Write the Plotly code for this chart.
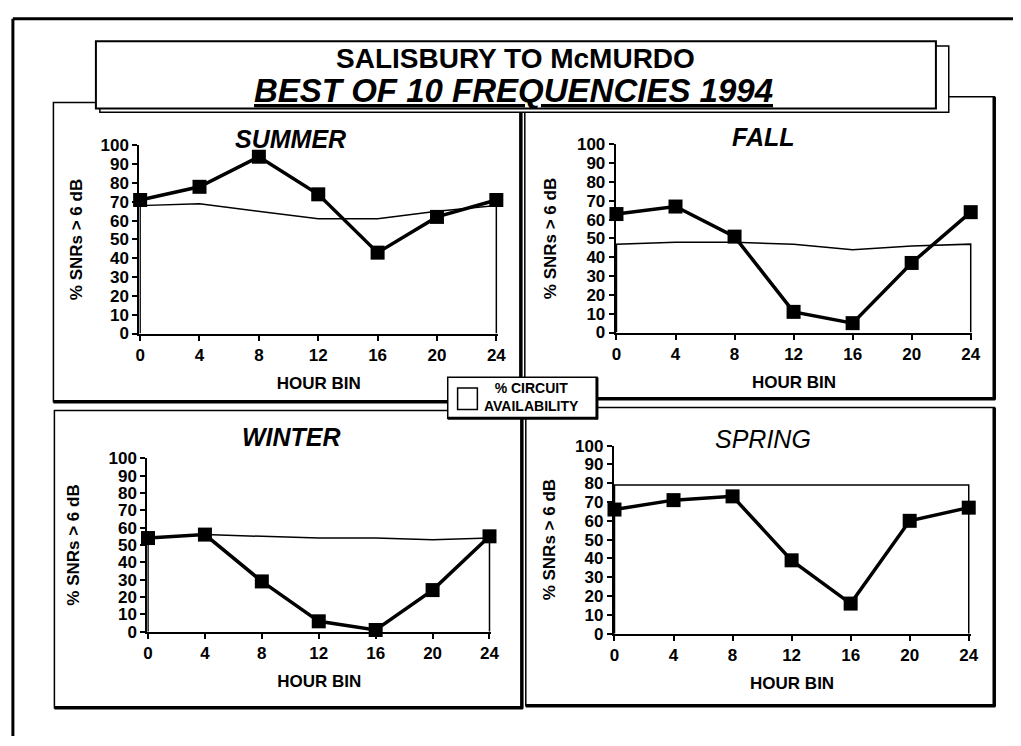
import plotly.graph_objects as go

W, H = 1021, 746
FONT = "Liberation Sans"

# ---- data -------------------------------------------------------------
hours = [0, 4, 8, 12, 16, 20, 24]
hour_labels = ["0", "4", "8", "12", "16", "20", "24"]
pct_ticks = [0, 10, 20, 30, 40, 50, 60, 70, 80, 90, 100]
seasons = ["SUMMER", "FALL", "WINTER", "SPRING"]

snr_summer = [71, 78, 94, 74, 43, 62, 71]
snr_fall = [63, 67, 51, 11, 5, 37, 64]
snr_winter = [54, 56, 29, 6, 1, 24, 55]
snr_spring = [66, 71, 73, 39, 16, 60, 67]

avail_summer = [68, 69, 65, 61, 61, 65, 68]
avail_fall = [47, 48, 48, 47, 44, 46, 47]
avail_winter = [54, 56, 55, 54, 54, 53, 54]
avail_spring = [79, 79, 79, 79, 79, 79, 79]

snr_series = [snr_summer, snr_fall, snr_winter, snr_spring]
avail_series = [avail_summer, avail_fall, avail_winter, avail_spring]


def fx(x):
    return x / W


def fy(y):
    return 1 - y / H


# ---- panel layout (pixel boxes) ---------------------------------------
# plot area: left, top, right, bottom
plot_boxes = [
    (137, 140, 500, 333),
    (619, 139, 980, 332),
    (145, 461, 493, 639),
    (617, 448, 978, 641),
]
# panel frame: left, top, right, bottom
frames = [
    (50, 96, 523, 403),
    (527, 90, 1002, 400),
    (51, 412, 524, 717),
    (528, 409, 1002, 715),
]
title_pos = [(290, 133), (769, 131), (291, 439), (768, 441)]
title_bold = [True, True, True, False]
ytitle_standoff = [14, 16, 25, 15]

fig = go.Figure()
shapes = []
annotations = []

# outer frame (left and top edges)
shapes.append(dict(type="line", xref="paper", yref="paper",
                   x0=fx(9), y0=fy(10), x1=fx(9), y1=fy(746),
                   line=dict(color="black", width=3)))
shapes.append(dict(type="line", xref="paper", yref="paper",
                   x0=fx(9), y0=fy(10), x1=fx(1021), y1=fy(10),
                   line=dict(color="black", width=3)))

# panel frames: thin outline with heavy right/bottom edges
for (l, t, r, b) in frames:
    shapes.append(dict(type="rect", xref="paper", yref="paper",
                       x0=fx(l), y0=fy(b), x1=fx(r), y1=fy(t),
                       line=dict(color="black", width=1.5), layer="below"))
    shapes.append(dict(type="line", xref="paper", yref="paper",
                       x0=fx(r), y0=fy(t), x1=fx(r), y1=fy(b + 1),
                       line=dict(color="black", width=3.5)))
    shapes.append(dict(type="line", xref="paper", yref="paper",
                       x0=fx(l), y0=fy(b), x1=fx(r + 1), y1=fy(b),
                       line=dict(color="black", width=3.5)))

# title box with offset backing box
shapes.append(dict(type="rect", xref="paper", yref="paper",
                   x0=fx(97), y0=fy(106), x1=fx(956), y1=fy(38),
                   line=dict(color="black", width=1.5), fillcolor="white"))
shapes.append(dict(type="rect", xref="paper", yref="paper",
                   x0=fx(93), y0=fy(102), x1=fx(943), y1=fy(33),
                   line=dict(color="black", width=2), fillcolor="white"))

annotations.append(dict(
    text="SALISBURY TO McMURDO", xref="paper", yref="paper",
    x=fx(518), y=fy(51), xanchor="center", yanchor="middle", showarrow=False,
    font=dict(family=FONT, size=28, color="black", weight="bold")))
annotations.append(dict(
    text="BEST OF 10 FREQUENCIES 1994", xref="paper", yref="paper",
    x=fx(516), y=fy(84), xanchor="center", yanchor="middle", showarrow=False,
    font=dict(family=FONT, size=33, color="black", weight="bold",
              style="italic", lineposition="under")))

# ---- the four season panels --------------------------------------------
for i in range(4):
    n = "" if i == 0 else str(i + 1)
    l, t, r, b = plot_boxes[i]
    xa, ya = "x" + n, "y" + n

    # circuit availability drawn as an outlined white area
    fig.add_trace(go.Scatter(
        x=[hours[0]] + hours + [hours[-1]],
        y=[0] + avail_series[i] + [0],
        mode="lines", fill="toself", fillcolor="white",
        line=dict(color="black", width=1.5),
        showlegend=False, hoverinfo="skip", xaxis=xa, yaxis=ya))

    # % SNRs above 6 dB
    fig.add_trace(go.Scatter(
        x=hours, y=snr_series[i], mode="lines+markers",
        line=dict(color="black", width=3.5),
        marker=dict(symbol="square", size=14, color="black"),
        cliponaxis=False, showlegend=False, xaxis=xa, yaxis=ya))

    axis_font = dict(family=FONT, size=17, color="black", weight="bold")
    title_font = dict(family=FONT, size=17, color="black", weight="bold")
    fig.layout["xaxis" + n] = dict(
        domain=[fx(l), fx(r)], anchor=ya, range=[-0.05, 24.12],
        tickmode="array", tickvals=hours, ticktext=hour_labels,
        ticks="outside", ticklen=5, tickwidth=1.5, tickcolor="black",
        showline=True, linecolor="black", linewidth=2,
        showgrid=False, zeroline=False, tickfont=axis_font,
        title=dict(text="HOUR BIN", font=title_font, standoff=13),
        fixedrange=True)
    fig.layout["yaxis" + n] = dict(
        domain=[fy(b), fy(t)], anchor=xa, range=[0, 100],
        tickmode="array", tickvals=pct_ticks,
        ticks="outside", ticklen=5, tickwidth=1.5, tickcolor="black",
        showline=True, linecolor="black", linewidth=2,
        showgrid=False, zeroline=False, tickfont=axis_font,
        title=dict(text="% SNRs > 6 dB", font=title_font,
                   standoff=ytitle_standoff[i]),
        fixedrange=True)

    tx, ty = title_pos[i]
    annotations.append(dict(
        text=seasons[i], xref="paper", yref="paper",
        x=fx(tx), y=fy(ty), xanchor="center", yanchor="middle",
        showarrow=False,
        font=dict(family=FONT, size=25, color="black",
                  weight="bold" if title_bold[i] else "normal",
                  style="italic")))

# ---- legend box ---------------------------------------------------------
shapes.append(dict(type="rect", xref="paper", yref="paper",
                   x0=fx(449), y0=fy(420), x1=fx(600), y1=fy(378),
                   line=dict(color="black", width=1.5), fillcolor="white"))
shapes.append(dict(type="line", xref="paper", yref="paper",
                   x0=fx(600), y0=fy(378), x1=fx(600), y1=fy(421),
                   line=dict(color="black", width=3)))
shapes.append(dict(type="line", xref="paper", yref="paper",
                   x0=fx(449), y0=fy(420), x1=fx(601), y1=fy(420),
                   line=dict(color="black", width=3)))
shapes.append(dict(type="rect", xref="paper", yref="paper",
                   x0=fx(459), y0=fy(411), x1=fx(479), y1=fy(389),
                   line=dict(color="black", width=1.5), fillcolor="white"))
annotations.append(dict(
    text="% CIRCUIT<br>AVAILABILITY", xref="paper", yref="paper",
    x=fx(534), y=fy(398), xanchor="center", yanchor="middle",
    showarrow=False, align="center",
    font=dict(family=FONT, size=14, color="black", weight="bold")))

fig.update_layout(
    width=W, height=H, autosize=False,
    margin=dict(l=0, r=0, t=0, b=0),
    paper_bgcolor="white", plot_bgcolor="rgba(0,0,0,0)",
    shapes=shapes, annotations=annotations,
    font=dict(family=FONT, color="black"),
)

fig.write_html("out.html")
